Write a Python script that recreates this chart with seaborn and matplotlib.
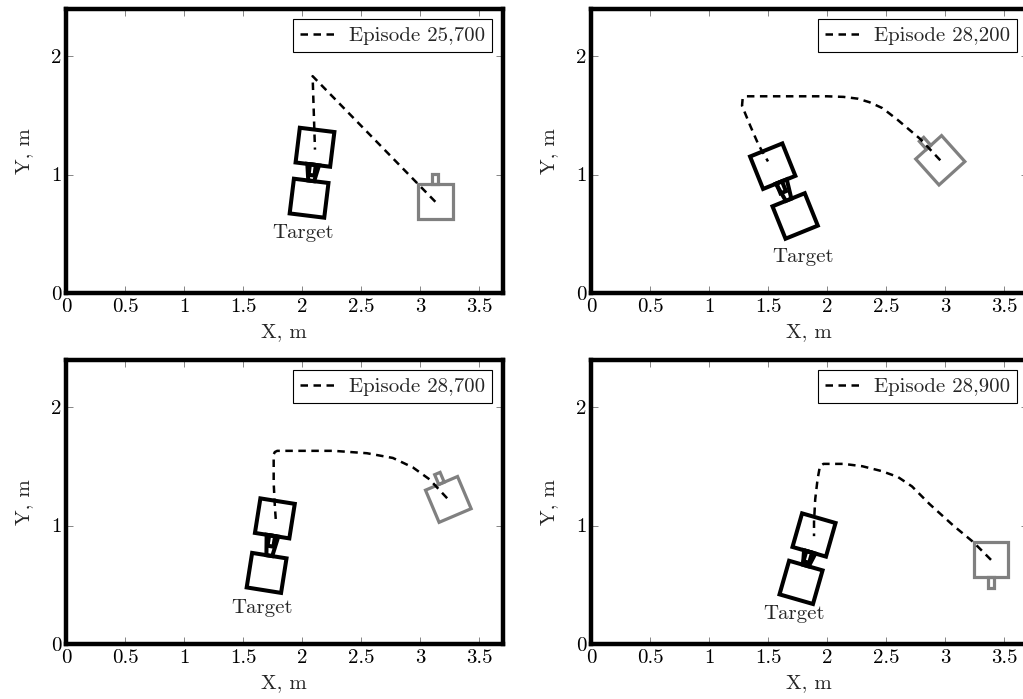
import numpy as np
import pandas as pd
import matplotlib
matplotlib.use("Agg")
import matplotlib.pyplot as plt
import seaborn as sns
from matplotlib.patches import Polygon

# ---------------- data ----------------
episodes = ["Episode 25,700", "Episode 28,200", "Episode 28,700", "Episode 28,900"]

traj1_x = [3.13, 2.09, 2.11]
traj1_y = [0.77, 1.83, 1.21]
traj2_x = [2.96, 2.79, 2.60, 2.47, 2.36, 2.26, 2.14, 2.00, 1.71, 1.43, 1.31, 1.285, 1.28, 1.35, 1.42, 1.50]
traj2_y = [1.12, 1.30, 1.46, 1.56, 1.61, 1.64, 1.655, 1.66, 1.66, 1.66, 1.66, 1.64, 1.58, 1.41, 1.25, 1.11]
traj3_x = [3.23, 3.08, 2.94, 2.77, 2.55, 2.27, 1.98, 1.79, 1.77, 1.76, 1.76, 1.77, 1.78]
traj3_y = [1.23, 1.39, 1.49, 1.57, 1.61, 1.63, 1.63, 1.63, 1.62, 1.60, 1.36, 1.16, 1.02]
traj4_x = [3.39, 3.24, 3.07, 2.87, 2.72, 2.60, 2.46, 2.30, 2.14, 1.97, 1.94, 1.92, 1.90, 1.89, 1.89]
traj4_y = [0.71, 0.86, 1.00, 1.18, 1.33, 1.41, 1.46, 1.50, 1.52, 1.52, 1.50, 1.39, 1.22, 1.03, 0.91]
traj_x = [traj1_x, traj2_x, traj3_x, traj4_x]
traj_y = [traj1_y, traj2_y, traj3_y, traj4_y]

# chaser initial pose (grey)
start_x = [3.13, 2.96, 3.24, 3.39]
start_y = [0.77, 1.12, 1.22, 0.71]
start_heading = [90, 132, 113, -90]
# chaser final pose (black)
final_x = [2.11, 1.54, 1.77, 1.89]
final_y = [1.23, 1.07, 1.06, 0.92]
final_heading = [-97, -68, -99, -106]
# target pose
target_x = [2.06, 1.73, 1.70, 1.78]
target_y = [0.80, 0.65, 0.60, 0.52]
target_heading = [83, 112, 81, 74]
label_x = [2.01, 1.80, 1.66, 1.72]
label_y = [0.51, 0.30, 0.30, 0.25]

x_ticks = [0, 0.5, 1, 1.5, 2, 2.5, 3, 3.5]
x_ticklabels = ["0", "0.5", "1", "1.5", "2", "2.5", "3", "3.5"]
y_ticks = [0, 1, 2]
y_ticklabels = ["0", "1", "2"]

# ---------------- style ----------------
sns.set_theme(style="ticks")
plt.rcParams["font.family"] = ["cmr10", "DejaVu Serif"]
plt.rcParams["mathtext.fontset"] = "cm"
plt.rcParams["axes.formatter.use_mathtext"] = True

FS = 15
SIDE = 0.295
PORT_W, PORT_L = 0.05, 0.09
CONE_WN, CONE_WW = 0.05, 0.10


def local_to_world(cx, cy, heading, pts):
    a = np.deg2rad(heading)
    u = np.array([np.cos(a), np.sin(a)])
    v = np.array([-np.sin(a), np.cos(a)])
    return np.array([[cx + p[0] * u[0] + p[1] * v[0], cy + p[0] * u[1] + p[1] * v[1]] for p in pts])


def add_poly(ax, pts, color, lw):
    ax.add_patch(Polygon(pts, closed=True, fill=False, edgecolor=color, linewidth=lw,
                         joinstyle="miter", zorder=2))


def draw_chaser(ax, cx, cy, heading, color, lw):
    h = SIDE / 2
    add_poly(ax, local_to_world(cx, cy, heading, [(-h, -h), (h, -h), (h, h), (-h, h)]), color, lw)
    add_poly(ax, local_to_world(cx, cy, heading,
                                [(h, -PORT_W / 2), (h + PORT_L, -PORT_W / 2),
                                 (h + PORT_L, PORT_W / 2), (h, PORT_W / 2)]), color, lw)


def draw_target(ax, cx, cy, heading, gap, color, lw):
    h = SIDE / 2
    add_poly(ax, local_to_world(cx, cy, heading, [(-h, -h), (h, -h), (h, h), (-h, h)]), color, lw)
    add_poly(ax, local_to_world(cx, cy, heading,
                                [(h, -CONE_WN / 2), (h + gap, -CONE_WW / 2),
                                 (h + gap, CONE_WW / 2), (h, CONE_WN / 2)]), color, lw)


fig = plt.figure(figsize=(10.23, 6.99), dpi=100)
W, H = 1023.0, 699.0
ax_w = 3.7 * 118 / W
ax_h = 2.4 * 118.5 / H
positions = [
    (66 / W, 1 - 293 / H),
    (591 / W, 1 - 293 / H),
    (66 / W, 1 - 644 / H),
    (591 / W, 1 - 644 / H),
]

for i, (left, bottom) in enumerate(positions):
    ax = fig.add_axes([left, bottom, ax_w, ax_h])
    df = pd.DataFrame({"x": traj_x[i], "y": traj_y[i]})
    sns.lineplot(data=df, x="x", y="y", ax=ax, sort=False, estimator=None,
                 color="black", linewidth=1.8, label=episodes[i], zorder=3)
    line = ax.get_lines()[0]
    line.set_dashes([3.0, 2.2])

    draw_chaser(ax, start_x[i], start_y[i], start_heading[i], "#808080", 2.3)
    draw_chaser(ax, final_x[i], final_y[i], final_heading[i], "black", 2.9)
    dist = np.hypot(final_x[i] - target_x[i], final_y[i] - target_y[i])
    draw_target(ax, target_x[i], target_y[i], target_heading[i], dist - SIDE, "black", 2.9)
    ax.text(label_x[i], label_y[i], "Target", fontsize=FS, ha="center", va="center")

    ax.set_xlim(0, 3.7)
    ax.set_ylim(0, 2.4)
    ax.set_xticks(x_ticks)
    ax.set_xticklabels(x_ticklabels)
    ax.set_yticks(y_ticks)
    ax.set_yticklabels(y_ticklabels)
    ax.tick_params(axis="both", direction="in", top=True, right=True, length=5,
                   width=0.6, color="0.45", labelsize=FS, labelcolor="black")
    ax.tick_params(axis="x", pad=4)
    ax.tick_params(axis="y", pad=3)
    for s in ax.spines.values():
        s.set_linewidth(3.2)
        s.set_color("black")
        s.set_visible(True)
    ax.set_xlabel("X, m", fontsize=FS, labelpad=5)
    ax.set_ylabel("Y, m", fontsize=FS, labelpad=13)
    leg = ax.legend(loc="upper right", fontsize=FS, frameon=True, fancybox=False,
                    edgecolor="black", framealpha=1, handlelength=1.8, handletextpad=0.55,
                    borderpad=0.35, borderaxespad=0.5)
    leg.get_frame().set_linewidth(0.8)

fig.savefig("out.png", dpi=100)
